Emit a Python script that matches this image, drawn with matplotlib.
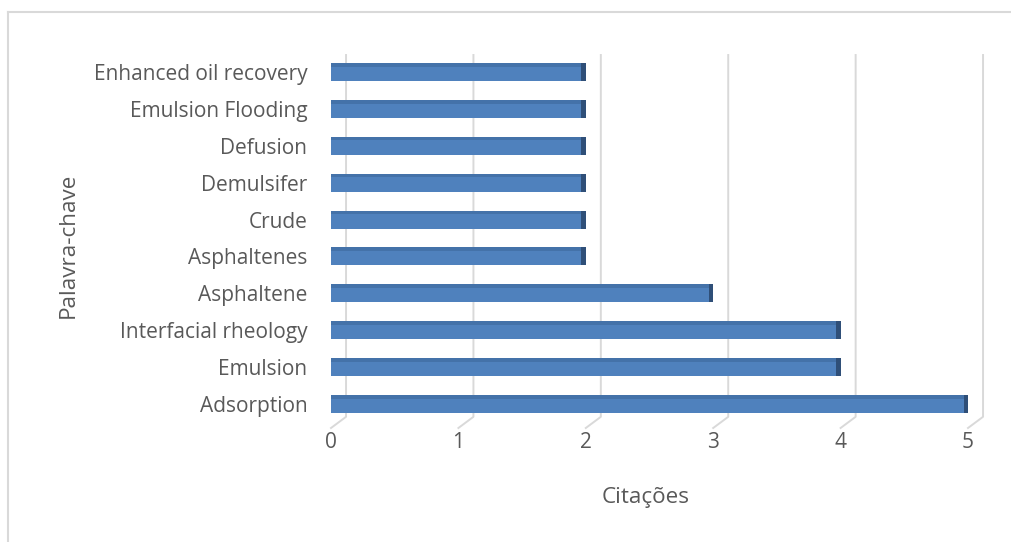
import numpy as np
import matplotlib.pyplot as plt
from matplotlib.lines import Line2D
from matplotlib.transforms import blended_transform_factory

# keywords, bottom to top
palavras = ['Adsorption', 'Emulsion', 'Interfacial rheology', 'Asphaltene',
            'Asphaltenes', 'Crude', 'Demulsifer', 'Defusion',
            'Emulsion Flooding', 'Enhanced oil recovery']
citacoes = [5, 4, 4, 3, 2, 2, 2, 2, 2, 2]
xticks = [0, 1, 2, 3, 4, 5]

plt.rcParams['font.family'] = ['Open Sans', 'DejaVu Sans']
texto = '#595959'
grade = '#D9D9D9'
azul = '#4F81BD'
azul_escuro = '#3B6496'

W, H = 1011, 542
fig = plt.figure(figsize=(W / 100, H / 100), dpi=100)
ax = fig.add_axes([331 / W, 1 - 428 / H, 637 / W, (428 - 55) / H])

y = np.arange(len(palavras))
alt = 0.49

# 3d-ish grid: back wall lines plus the floor diagonal
trans = blended_transform_factory(ax.transData, ax.transAxes)
dx = 0.118
for k in xticks:
    ax.plot([k, k + dx, k + dx], [0, 0.03, 1.0], color=grade, lw=1.4,
            transform=trans, clip_on=False, zorder=0)

# front face, top face and right side of each bar
ax.barh(y, citacoes, height=alt, color=azul, edgecolor='none', zorder=2)
ax.barh(y + alt / 2 - 0.05, citacoes, height=0.10, color=azul_escuro,
        edgecolor='none', alpha=0.5, zorder=3)
ax.barh(y, [0.035] * len(y), left=np.array(citacoes) - 0.035, height=alt,
        color='#2F4F78', edgecolor='none', zorder=3)

ax.set_xlim(0, 5)
ax.set_ylim(-0.65, len(palavras) - 1 + 0.46)
ax.set_xticks(xticks)
ax.set_yticks(y)
ax.set_yticklabels(palavras)
ax.tick_params(axis='y', length=0, pad=17, labelsize=15, colors=texto)
ax.tick_params(axis='x', length=0, pad=3, labelsize=15, colors=texto)
for s in ax.spines.values():
    s.set_visible(False)

fig.text(646 / W, 1 - 497 / H, 'Citações', ha='center', va='center',
         fontsize=16.2, color=texto)
fig.text(68 / W, 1 - 245 / H, 'Palavra-chave', ha='center', va='center',
         rotation=90, fontsize=16.2, color=texto)

# chart area border (cut off at the right and bottom)
fig.add_artist(Line2D([8 / W, 1.0], [1 - 12 / H, 1 - 12 / H], color=grade, lw=1.5))
fig.add_artist(Line2D([8 / W, 8 / W], [1 - 12 / H, 0.0], color=grade, lw=1.5))

fig.savefig('out.png', dpi=100)
